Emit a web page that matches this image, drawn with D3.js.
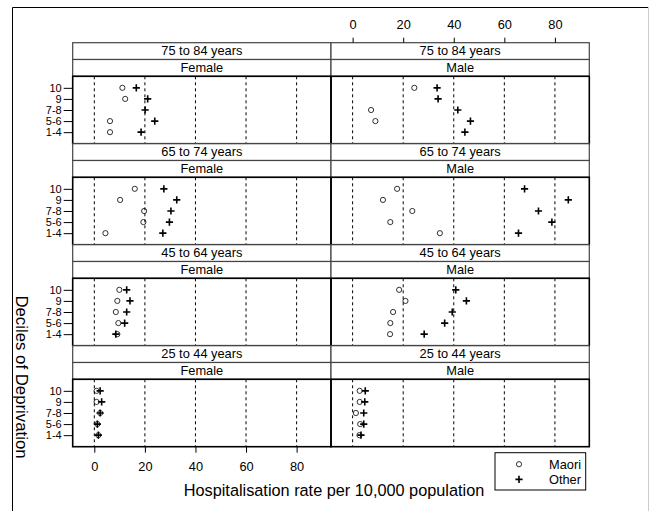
<!DOCTYPE html>
<html>
<head>
<meta charset="utf-8">
<script src="https://cdn.jsdelivr.net/npm/d3@7"></script>
<style>
  body { margin: 0; background: #fff; }
  svg { font-family: "Liberation Sans", Arial, sans-serif; }
</style>
</head>
<body>
<div id="chart"></div>
<script>
// Chart data (hospitalisation rate per 10,000)
var ageGroups = ["75 to 84 years", "65 to 74 years", "45 to 64 years", "25 to 44 years"];
var sexes = ["Female", "Male"];
var deciles = ["10", "9", "7-8", "5-6", "1-4"];
var xTicks = [0, 20, 40, 60, 80];

// one row per age group, values in decile order (10, 9, 7-8, 5-6, 1-4)
var femaleMaori = [
  [11.1, 12.2, null, 6.2, 6.2],
  [16.0, 10.2, 19.7, 19.4, 4.4],
  [9.9, 9.1, 8.5, 9.5, 9.1],
  [0.9, 0.9, 2.3, 1.2, 1.6]
];
var femaleOther = [
  [16.6, 21.1, 20.1, 23.9, 18.5],
  [27.5, 32.6, 30.3, 29.7, 27.1],
  [12.8, 14.1, 12.8, 12.0, 8.5],
  [2.3, 2.9, 2.3, 1.2, 1.6]
];
var maleMaori = [
  [24.4, null, 7.3, 9.0, null],
  [17.6, 12.0, 23.6, 14.9, 34.5],
  [18.4, 20.9, 16.0, 14.9, 14.8],
  [2.8, 2.8, 1.3, 3.0, 2.7]
];
var maleOther = [
  [33.4, 33.8, 41.6, 46.6, 44.4],
  [68.0, 85.3, 73.5, 78.8, 65.6],
  [40.8, 45.0, 39.4, 36.4, 28.3],
  [5.0, 4.8, 4.4, 4.4, 3.3]
];

var svgWidth = 652;
var svgHeight = 511;

var panelLeft = 72.7;
var panelTop = 42.7;
var panelWidth = 258.3;
var blockHeight = 101;
var stripHeight = 16.8;
var dataHeight = blockHeight - 2 * stripHeight;

var svg = d3.select("#chart")
  .append("svg")
  .attr("width", svgWidth)
  .attr("height", svgHeight);

// outer frame
svg.append("path")
  .attr("d", "M12.5,511 L12.5,7.5 L648,7.5")
  .attr("fill", "none")
  .attr("stroke", "#000")
  .attr("stroke-width", 1);
svg.append("line")
  .attr("x1", 648.5).attr("x2", 648.5)
  .attr("y1", 7).attr("y2", 511)
  .attr("stroke", "#ccc");

// scales
var x = d3.scaleLinear()
  .domain([-8.55, 93.6])
  .range([0, panelWidth]);

var y = d3.scalePoint()
  .domain(deciles)
  .range([0, dataHeight])
  .padding(1.04);

var seriesFor = {
  Female: { maori: femaleMaori, other: femaleOther },
  Male: { maori: maleMaori, other: maleOther }
};

ageGroups.forEach(function(age, r) {
  sexes.forEach(function(sex, c) {
    var g = svg.append("g")
      .attr("transform", `translate(${panelLeft + c * panelWidth}, ${panelTop + r * blockHeight})`);

    // strips
    [age, sex].forEach(function(label, s) {
      g.append("rect")
        .attr("x", 0)
        .attr("y", s * stripHeight)
        .attr("width", panelWidth)
        .attr("height", stripHeight)
        .attr("fill", "#fff")
        .attr("stroke", "#444")
        .attr("stroke-width", 1.2);
      g.append("text")
        .attr("x", panelWidth / 2)
        .attr("y", s * stripHeight + stripHeight / 2 + 4.4)
        .attr("text-anchor", "middle")
        .attr("font-size", "12.8px")
        .attr("fill", "#000")
        .text(label);
    });

    var p = g.append("g")
      .attr("transform", `translate(0, ${2 * stripHeight})`);

    // dashed reference lines
    p.selectAll("line.ref")
      .data(xTicks)
      .enter()
      .append("line")
      .attr("x1", d => x(d))
      .attr("x2", d => x(d))
      .attr("y1", 0)
      .attr("y2", dataHeight)
      .attr("stroke", "#000")
      .attr("stroke-width", 1)
      .attr("stroke-dasharray", "3,3");

    var maori = seriesFor[sex].maori[r];
    var other = seriesFor[sex].other[r];

    p.selectAll("circle")
      .data(deciles.map((d, i) => ({ dec: d, v: maori[i] })).filter(d => d.v !== null))
      .enter()
      .append("circle")
      .attr("cx", d => x(d.v))
      .attr("cy", d => y(d.dec))
      .attr("r", 2.6)
      .attr("fill", "none")
      .attr("stroke", "#000")
      .attr("stroke-width", 0.8);

    p.selectAll("path.plus")
      .data(deciles.map((d, i) => ({ dec: d, v: other[i] })).filter(d => d.v !== null))
      .enter()
      .append("path")
      .attr("class", "plus")
      .attr("d", d => {
        var cx = x(d.v), cy = y(d.dec), s = 3.6;
        return `M${cx - s},${cy}H${cx + s}M${cx},${cy - s}V${cy + s}`;
      })
      .attr("stroke", "#000")
      .attr("stroke-width", 1.6);

    // panel border
    p.append("rect")
      .attr("width", panelWidth)
      .attr("height", dataHeight)
      .attr("fill", "none")
      .attr("stroke", "#000")
      .attr("stroke-width", 1.6);

    // y axis on the left column
    if (c === 0) {
      var yAxis = d3.axisLeft(y).tickSize(9).tickPadding(2);
      p.append("g")
        .call(yAxis)
        .call(ax => ax.select(".domain").remove())
        .call(ax => ax.selectAll("text").attr("font-size", "11px").attr("font-family", "Liberation Sans, Arial, sans-serif"));
    }

    // bottom axis on the left column of the last row, top axis on the right column of the first row
    if (r === ageGroups.length - 1 && c === 0) {
      p.append("g")
        .attr("transform", `translate(0, ${dataHeight})`)
        .call(d3.axisBottom(x).tickValues(xTicks).tickSize(6).tickPadding(9))
        .call(ax => ax.select(".domain").remove())
        .call(ax => ax.selectAll("text").attr("font-size", "12.8px").attr("font-family", "Liberation Sans, Arial, sans-serif"));
    }
    if (r === 0 && c === 1) {
      g.append("g")
        .call(d3.axisTop(x).tickValues(xTicks).tickSize(5).tickPadding(9))
        .call(ax => ax.select(".domain").remove())
        .call(ax => ax.selectAll("text").attr("font-size", "12.8px").attr("font-family", "Liberation Sans, Arial, sans-serif"));
    }
  });
});

// axis titles
svg.append("text")
  .attr("x", 334)
  .attr("y", 496)
  .attr("text-anchor", "middle")
  .attr("font-size", "16.3px")
  .text("Hospitalisation rate per 10,000 population");

svg.append("text")
  .attr("transform", "translate(16, 377) rotate(90)")
  .attr("text-anchor", "middle")
  .attr("font-size", "16.8px")
  .text("Deciles of Deprivation");

// legend
var legend = svg.append("g")
  .attr("transform", "translate(495, 452.7)");

legend.append("rect")
  .attr("width", 90.7)
  .attr("height", 37.3)
  .attr("fill", "#fff")
  .attr("stroke", "#000")
  .attr("stroke-width", 1);

legend.append("circle")
  .attr("cx", 24).attr("cy", 11.5)
  .attr("r", 2.6)
  .attr("fill", "none")
  .attr("stroke", "#000")
  .attr("stroke-width", 0.8);

legend.append("path")
  .attr("d", "M20.4,26.7H27.6M24,23.1V30.3")
  .attr("stroke", "#000")
  .attr("stroke-width", 1.6);

legend.selectAll("text")
  .data(["Maori", "Other"])
  .enter()
  .append("text")
  .attr("x", 86)
  .attr("y", (d, i) => 16 + i * 15.5)
  .attr("text-anchor", "end")
  .attr("font-size", "12.8px")
  .text(d => d);
</script>
</body>
</html>
